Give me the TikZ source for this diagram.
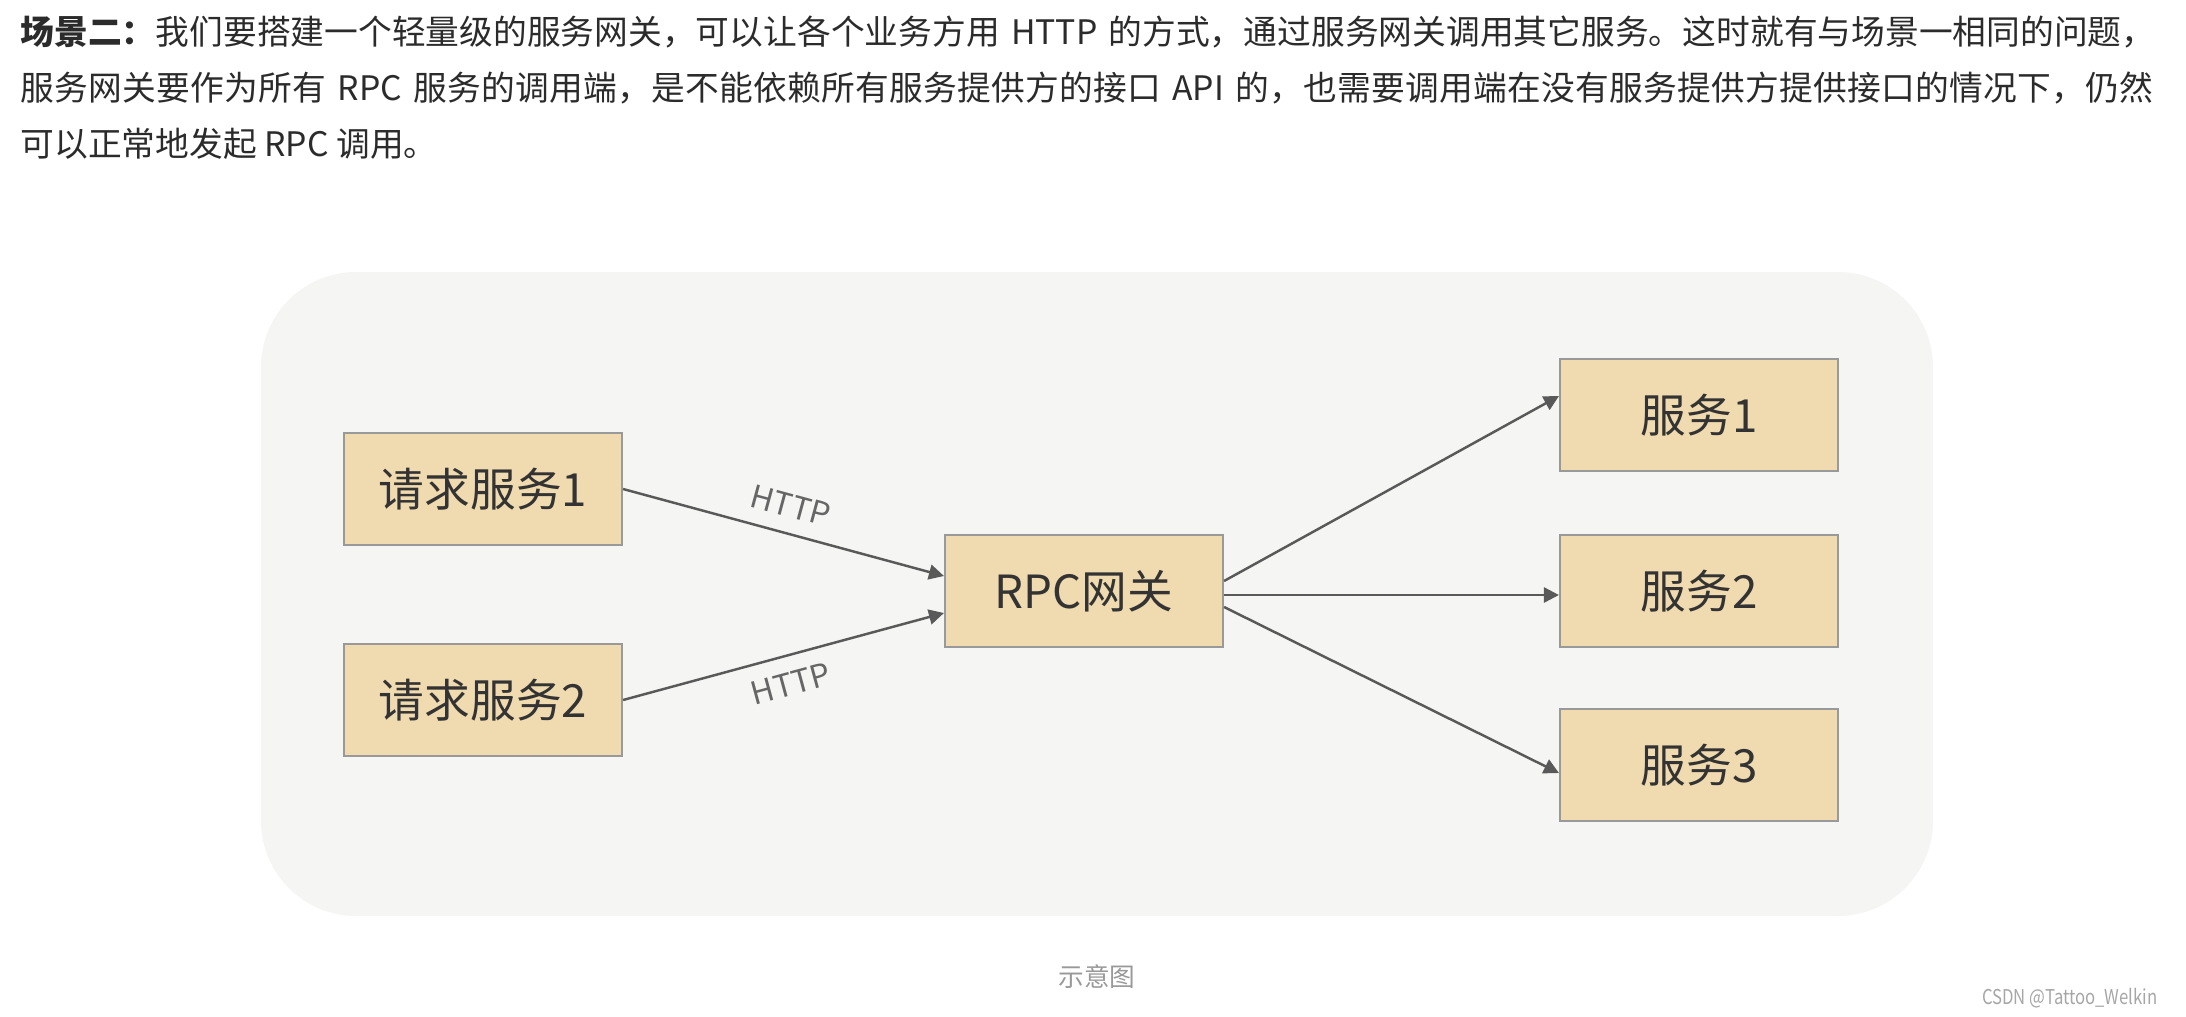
\documentclass[tikz,border=0pt]{standalone}
\usepackage{fontspec}
\setmainfont{Noto Sans CJK SC}
\usetikzlibrary{arrows.meta}
\XeTeXlinebreaklocale "zh"
\XeTeXlinebreakskip=0pt plus 2pt minus 0.3pt

\definecolor{boxfill}{HTML}{F0DAAF}
\definecolor{boxline}{HTML}{999999}
\definecolor{arrline}{HTML}{595959}
\definecolor{panelbg}{HTML}{F5F5F3}
\definecolor{bodytext}{HTML}{2B2B2B}

\begin{document}
\begin{tikzpicture}[
    svc/.style={draw=boxline, fill=boxfill, line width=0.6pt, minimum width=2.78cm,
                minimum height=1.12cm, inner sep=0pt, align=center,
                font=\fontsize{13}{15}\selectfont, text=black!80},
    arr/.style={-{Triangle[length=0.15cm,width=0.15cm]}, draw=arrline, line width=0.7pt},
    lbl/.style={font=\fontsize{9}{11}\selectfont, text=black!60, sloped},
    para/.style={anchor=west, inner sep=0pt, font=\fontsize{9.6}{12}\selectfont, text=bodytext},
    fullline/.style={para, text width=21.35cm, execute at begin node={\parindent=0pt\parfillskip=0pt}},
    note/.style={inner sep=0pt, text=black!40}
]
\useasboundingbox (0,0) rectangle (21.86,-10.16);

\node[fullline] (line1) at (0.20,-0.32) {\textbf{场景二：}我们要搭建一个轻量级的服务网关，可以让各个业务方用 HTTP 的方式，通过服务网关调用其它服务。这时就有与场景一相同的问题，};
\node[fullline] (line2) at (0.20,-0.88) {服务网关要作为所有 RPC 服务的调用端，是不能依赖所有服务提供方的接口 API 的，也需要调用端在没有服务提供方提供接口的情况下，仍然};
\node[para] (line3) at (0.20,-1.44) {可以正常地发起 RPC 调用。};

\fill[panelbg, rounded corners=0.95cm] (2.61,-2.72) rectangle (19.33,-9.16);

\node[svc] (req1) at ( 4.83,-4.89) {请求服务1};
\node[svc] (req2) at ( 4.83,-7.00) {请求服务2};
\node[svc] (gw)   at (10.84,-5.91) {RPC网关};
\node[svc] (svc1) at (16.99,-4.15) {服务1};
\node[svc] (svc2) at (16.99,-5.91) {服务2};
\node[svc] (svc3) at (16.99,-7.65) {服务3};

\draw[arr] (req1.east) -- node[lbl, above=1pt] (http1) {HTTP} ([yshift=1.5mm]gw.west);
\draw[arr] (req2.east) -- node[lbl, below=1pt] (http2) {HTTP} ([yshift=-2.2mm]gw.west);
\draw[arr] ([yshift=1.0mm]gw.east)  -- ([yshift=1.9mm]svc1.west);
\draw[arr] ([yshift=-0.4mm]gw.east) -- ([yshift=-0.4mm]svc2.west);
\draw[arr] ([yshift=-1.6mm]gw.east) -- ([yshift=-0.8mm]svc3.west);

\node[note, font=\fontsize{7.3}{9}\selectfont] (caption) at (10.97,-9.77) {示意图};
\node[note, anchor=east, text=black!35, font=\fontsize{5.8}{7}\selectfont, xscale=0.82, transform shape] (mark) at (21.58,-9.98) {CSDN @Tattoo\_Welkin};
\end{tikzpicture}
\end{document}
